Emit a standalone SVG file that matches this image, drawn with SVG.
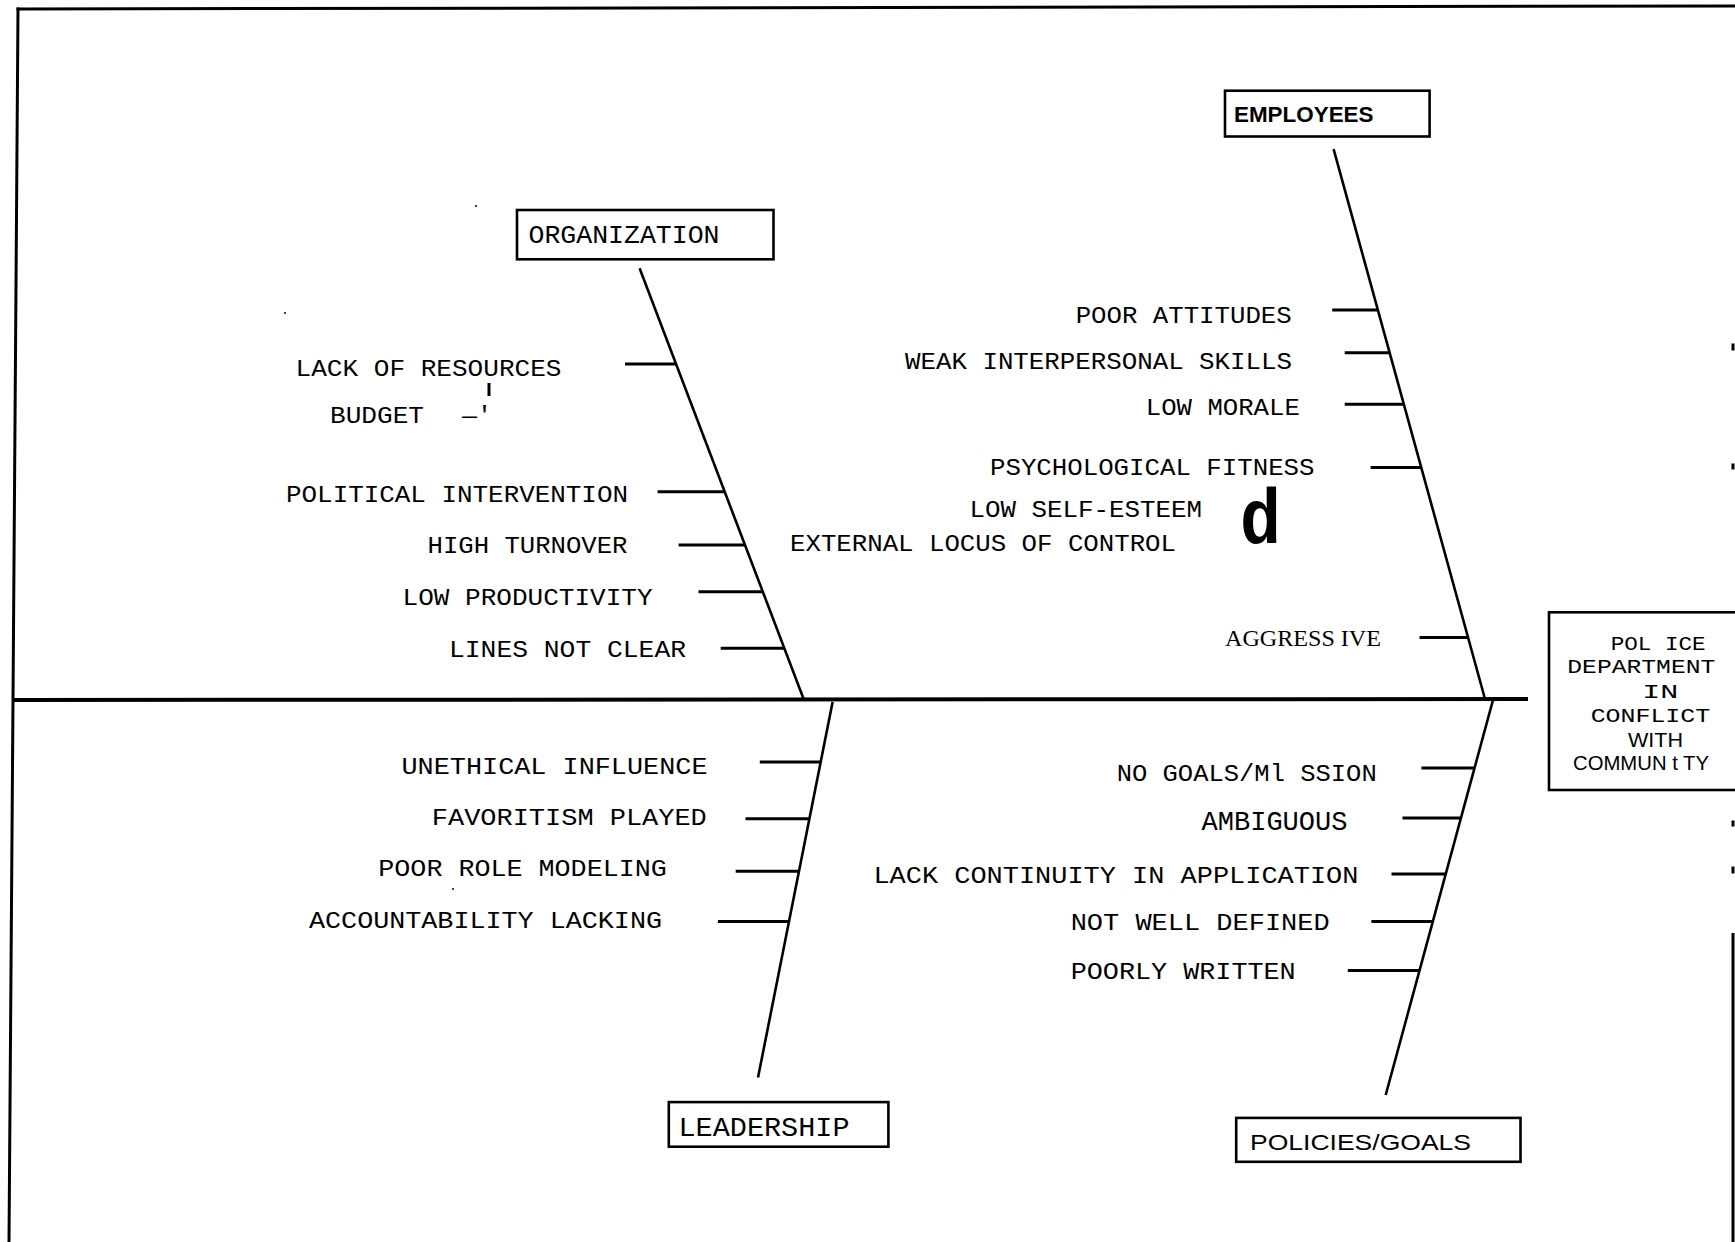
<svg xmlns="http://www.w3.org/2000/svg" width="1735" height="1242" viewBox="0 0 1735 1242">
<style>
.bg{fill:#fff}
.frame{stroke:#000;stroke-width:3;fill:none;stroke-linecap:square}
.spine{stroke:#000;stroke-width:4;fill:none}
.bone{stroke:#000;stroke-width:2.6;fill:none}
.tick{stroke:#000;stroke-width:3;fill:none}
.box{fill:#fff;stroke:#000;stroke-width:2.6}
.t{font-family:"Liberation Mono","DejaVu Sans Mono",monospace;font-size:24px;fill:#000}
.ts{font-family:"Liberation Sans",Arial,sans-serif;fill:#000}
.tr{font-family:"Liberation Serif","Times New Roman",serif;font-size:24px;fill:#000}
.big{font-size:28px}
.cap{font-size:26px}
.eff{font-size:21px}
</style>
<rect class="bg" x="0" y="0" width="1735" height="1242"/>

<g id="frame">
<path class="frame" d="M18,9 L1735,6"/>
<path class="frame" d="M18,9 L13,700 L9,1242"/>
<path class="frame" d="M1733,345 v4 M1733,465 v3 M1733,822 v3 M1733,868 v4"/>
<path d="M1733,933 L1733,1242" stroke="#000" stroke-width="3"/>
<circle cx="476" cy="206" r="1" fill="#000"/>
<circle cx="285" cy="313" r="1" fill="#000"/>
<circle cx="453" cy="889" r="1" fill="#000"/>
<path d="M489,383 V396" stroke="#000" stroke-width="3"/>
</g>

<g id="connectors">
<path class="spine" d="M13,700 L1528,699"/>
<path class="bone" d="M639.6,268.3 L804,700"/>
<path class="bone" d="M1333.6,149.2 L1485,699"/>
<path class="bone" d="M832.6,702 L758,1077.6"/>
<path class="bone" d="M1493,700 L1385.7,1095"/>
<path class="tick" d="M625,364 H676 M657.6,491.7 H724.5 M678.6,545 H744.7 M698.5,591.7 H762.5 M720.7,648.3 H784"/>
<path class="tick" d="M1332.2,310.1 H1378 M1344.7,352.8 H1389.7 M1344.7,404.2 H1403.8 M1370.6,467.5 H1421.3 M1419.5,637.5 H1468"/>
<path class="tick" d="M759.8,761.9 H820.7 M745.5,818.7 H809.4 M735.7,871.3 H799 M717.9,921.5 H789"/>
<path class="tick" d="M1421.4,767.9 H1474.6 M1402.5,818 H1461 M1391.5,874.1 H1445.7 M1371.4,921.5 H1432.9 M1347.8,970.6 H1419.6"/>
</g>

<g id="organization">
<rect class="box" x="517" y="210" width="256.5" height="49.3"/>
<text class="t cap" x="528.5" y="243.3" textLength="191" lengthAdjust="spacingAndGlyphs">ORGANIZATION</text>
</g>
<g id="organization-causes">
<text class="t" x="295.5" y="375.7" textLength="266" lengthAdjust="spacingAndGlyphs">LACK OF RESOURCES</text>
<text class="t" x="330" y="423.3" textLength="94" lengthAdjust="spacingAndGlyphs">BUDGET</text>
<text class="t" x="462" y="423.3" textLength="30" lengthAdjust="spacingAndGlyphs">—'</text>
<text class="t" x="286" y="501.7" textLength="342" lengthAdjust="spacingAndGlyphs">POLITICAL INTERVENTION</text>
<text class="t" x="427.5" y="553.3" textLength="200" lengthAdjust="spacingAndGlyphs">HIGH TURNOVER</text>
<text class="t" x="402.6" y="605" textLength="250" lengthAdjust="spacingAndGlyphs">LOW PRODUCTIVITY</text>
<text class="t" x="449" y="656.7" textLength="237" lengthAdjust="spacingAndGlyphs">LINES NOT CLEAR</text>
</g>

<g id="employees">
<rect class="box" x="1225" y="90.7" width="204.6" height="45.8"/>
<text class="ts" x="1234" y="122.3" style="font-size:22px;font-weight:bold" textLength="139.5" lengthAdjust="spacingAndGlyphs">EMPLOYEES</text>
</g>
<g id="employees-causes">
<text class="t" x="1075.7" y="323.2" textLength="216" lengthAdjust="spacingAndGlyphs">POOR ATTITUDES</text>
<text class="t" x="905" y="369.4" textLength="387" lengthAdjust="spacingAndGlyphs">WEAK INTERPERSONAL SKILLS</text>
<text class="t" x="1145.8" y="414.9" textLength="154" lengthAdjust="spacingAndGlyphs">LOW MORALE</text>
<text class="t" x="990" y="475.4" textLength="324.5" lengthAdjust="spacingAndGlyphs">PSYCHOLOGICAL FITNESS</text>
<text class="t" x="969.4" y="516.9" textLength="232.5" lengthAdjust="spacingAndGlyphs">LOW SELF-ESTEEM</text>
<text class="t" x="790" y="550.5" textLength="386" lengthAdjust="spacingAndGlyphs">EXTERNAL LOCUS OF CONTROL</text>
<text x="1240" y="542.6" style="font-family:'Liberation Mono',monospace;font-size:78px;font-weight:bold;fill:#000" textLength="41" lengthAdjust="spacingAndGlyphs">d</text>
<text class="tr" x="1225" y="646.2" textLength="156" lengthAdjust="spacingAndGlyphs">AGGRESS IVE</text>
</g>

<g id="leadership">
<rect class="box" x="668.8" y="1102.1" width="219.6" height="44.6"/>
<text class="t big" x="678.5" y="1136.2" textLength="171" lengthAdjust="spacingAndGlyphs">LEADERSHIP</text>
</g>
<g id="leadership-causes">
<text class="t" x="401.5" y="774.2" textLength="306" lengthAdjust="spacingAndGlyphs">UNETHICAL INFLUENCE</text>
<text class="t" x="431.8" y="825" textLength="275" lengthAdjust="spacingAndGlyphs">FAVORITISM PLAYED</text>
<text class="t" x="378.3" y="875.9" textLength="288.5" lengthAdjust="spacingAndGlyphs">POOR ROLE MODELING</text>
<text class="t" x="309" y="927.5" textLength="353" lengthAdjust="spacingAndGlyphs">ACCOUNTABILITY LACKING</text>
</g>

<g id="policies-goals">
<rect class="box" x="1236.2" y="1117.9" width="284.3" height="43.9"/>
<text class="ts" x="1250" y="1149.5" style="font-size:22px" textLength="221" lengthAdjust="spacingAndGlyphs">POLICIES/GOALS</text>
</g>
<g id="policies-causes">
<text class="t" x="1116.7" y="780.5" textLength="260" lengthAdjust="spacingAndGlyphs">NO GOALS/Ml SSION</text>
<text class="t big" x="1201.5" y="830.3" textLength="146" lengthAdjust="spacingAndGlyphs">AMBIGUOUS</text>
<text class="t" x="873.4" y="882.9" textLength="485" lengthAdjust="spacingAndGlyphs">LACK CONTINUITY IN APPLICATION</text>
<text class="t" x="1070.7" y="930.3" textLength="259" lengthAdjust="spacingAndGlyphs">NOT WELL DEFINED</text>
<text class="t" x="1070.7" y="979.4" textLength="225" lengthAdjust="spacingAndGlyphs">POORLY WRITTEN</text>
</g>

<g id="effect">
<rect class="box" x="1549" y="612.3" width="200" height="177.7"/>
<text class="t eff" x="1610.7" y="650" textLength="95" lengthAdjust="spacingAndGlyphs">POL ICE</text>
<text class="t eff" x="1567.3" y="673.3" textLength="148" lengthAdjust="spacingAndGlyphs">DEPARTMENT</text>
<text class="t eff" x="1642.3" y="698.3" textLength="36" lengthAdjust="spacingAndGlyphs">IN</text>
<text class="t eff" x="1590.7" y="721.7" textLength="119.5" lengthAdjust="spacingAndGlyphs">CONFLICT</text>
<text class="ts" x="1628" y="746.7" style="font-size:21px" textLength="55" lengthAdjust="spacingAndGlyphs">WITH</text>
<text class="ts" x="1573" y="770" style="font-size:21px" textLength="136" lengthAdjust="spacingAndGlyphs">COMMUN t TY</text>
</g>
</svg>
